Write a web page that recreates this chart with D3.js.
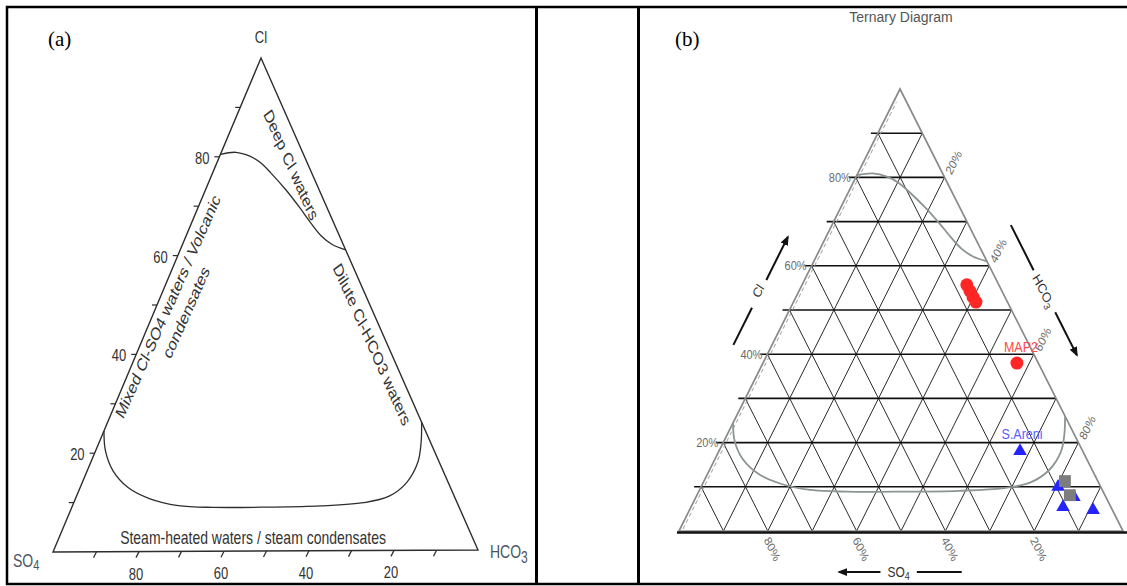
<!DOCTYPE html>
<html>
<head>
<meta charset="utf-8">
<script src="https://cdn.jsdelivr.net/npm/d3@7"></script>
<style>
body { margin: 0; background: #fff; }
svg { display: block; }
</style>
</head>
<body>
<div id="container"></div>
<script>
// boundary curves of the Cl-SO4-HCO3 diagram, as [HCO3 %, Cl %]
var upperCurve = [[0, 80.5], [3.4, 80.9], [7.1, 80.1], [10.4, 78.7], [13.7, 76.7], [19, 73.2],
    [24, 69.6], [28.1, 66.5], [31.8, 63.9], [35.3, 62.1], [39, 61]];
var lowerCurve = [[0, 24.5], [2.3, 20.5], [6.1, 16.4], [11.3, 13], [17.4, 10.75], [24.9, 9.3],
    [33.4, 8.9], [46.1, 8.9], [58.5, 9.1], [68.3, 9.7], [73.7, 11], [76.5, 13.8], [77.1, 17.9],
    [75.9, 21.9], [74, 26]];
var gridSteps = [10, 20, 30, 40, 50, 60, 70, 80, 90];
var labelSteps = [20, 40, 60, 80];

// samples on panel (b), as [HCO3 %, Cl %]
var redCluster = [[37.1, 55.7], [38.5, 54.3], [39.9, 52.9], [41.1, 51.8]];
var map2 = [[57.2, 38]];
var blueTriangles = [[85.1, 7.7], [67.8, 18.1], [80.4, 10], [83.8, 5.4], [90.9, 4.75]];
var graySquares = [[81.3, 11.3], [84, 8.1]];

var svg = d3.select('#container')
    .append('svg')
    .attr('width', 1127)
    .attr('height', 586)
    .style('font-family', '"Liberation Sans", Arial, sans-serif');

svg.append('defs').append('marker')
    .attr('id', 'head')
    .attr('viewBox', '0 -5 10 10')
    .attr('refX', 8).attr('refY', 0)
    .attr('markerUnits', 'userSpaceOnUse')
    .attr('markerWidth', 10).attr('markerHeight', 10)
    .attr('orient', 'auto')
    .append('path')
    .attr('d', 'M0,-4L10,0L0,4Z')
    .style('fill', '#111');

// barycentric projection built from linear scales: (hco3, cl) -> [x, y]
function ternary(A, L, R) {
    var s = d3.scaleLinear().domain([0, 100]);
    var hx = s.copy().range([L[0], R[0]]), hy = s.copy().range([L[1], R[1]]);
    var cx = s.copy().range([0, A[0] - L[0]]), cy = s.copy().range([0, A[1] - L[1]]);
    return function(h, c) {
        return [hx(h) + cx(c), hy(h) + cy(c)];
    };
}

// text that is stretched vertically like the scanned figure
function stext(g, str, p, angle, k, size, fill, anchor) {
    return g.append('text')
        .attr('transform', 'translate(' + p[0] + ',' + p[1] + ') scale(1,' + k + ') rotate(' + angle + ')')
        .attr('text-anchor', anchor || 'middle')
        .attr('dy', '0.35em')
        .style('font-size', size + 'px')
        .style('fill', fill)
        .text(str);
}

function seg(g, a, b, color, w) {
    return g.append('line')
        .attr('x1', a[0]).attr('y1', a[1])
        .attr('x2', b[0]).attr('y2', b[1])
        .style('stroke', color)
        .style('stroke-width', w);
}

// frame
svg.append('rect')
    .attr('x', 7).attr('y', 7)
    .attr('width', 1130).attr('height', 577)
    .style('fill', 'none').style('stroke', '#000').style('stroke-width', 2.5);
seg(svg, [536.5, 7], [536.5, 584], '#000', 3);
seg(svg, [638.5, 7], [638.5, 584], '#000', 3);

// ---------------- panel (a) ----------------
var pa = ternary([261, 58], [53, 552], [478, 550]);
var ka = 1.3;
var ga = svg.append('g');
var inkA = '#2e2e2e';

ga.append('text')
    .attr('x', 48).attr('y', 46)
    .style('font-family', '"Liberation Serif", "Times New Roman", serif')
    .style('font-size', '21px')
    .text('(a)');

ga.append('path')
    .attr('d', 'M' + pa(0, 100) + 'L' + pa(0, 0) + 'L' + pa(100, 0) + 'Z')
    .style('fill', 'none').style('stroke', inkA).style('stroke-width', 1.4);

gridSteps.forEach(function(c) {
    var p = pa(0, c);
    seg(ga, [p[0] - 5, p[1]], p, inkA, 1.2);
    var q = pa(c, 0);
    seg(ga, [q[0] + 1, q[1]], [q[0] - 2, q[1] + 6], inkA, 1.3);
});
labelSteps.forEach(function(c) {
    var p = pa(0, c);
    stext(ga, c, [p[0] - 10, p[1] + 1], 0, ka, 13, '#333', 'end');
    var q = pa(c, 0);
    stext(ga, 100 - c, [q[0] - 2, q[1] + 22], 0, ka, 13, '#333');
});

var lineA = d3.line()
    .x(function(d) { return pa(d[0], d[1])[0]; })
    .y(function(d) { return pa(d[0], d[1])[1]; })
    .curve(d3.curveCatmullRom);
ga.selectAll('path.curve')
    .data([upperCurve, lowerCurve])
    .enter().append('path')
    .attr('class', 'curve')
    .attr('d', lineA)
    .style('fill', 'none').style('stroke', inkA).style('stroke-width', 1.3);

var apexA = pa(0, 100);
stext(ga, 'Cl', [apexA[0], apexA[1] - 21], 0, ka, 13, '#333');
var so4A = pa(0, 0);
var t = stext(ga, 'SO', [so4A[0] - 40, so4A[1] + 9], 0, ka, 14, '#4a5560', 'start');
t.append('tspan').attr('dy', '0.15em').style('font-size', '11px').text('4');
var hcoA = pa(100, 0);
t = stext(ga, 'HCO', [hcoA[0] + 12, hcoA[1] + 2], 0, ka, 14, '#4a5560', 'start');
t.append('tspan').attr('dy', '0.3em').style('font-size', '12px').text('3');

stext(ga, 'Deep Cl waters', pa(17.7, 78.3), 60, ka, 14, '#333');
stext(ga, 'Dilute Cl-HCO3 waters', pa(54.6, 41.8), 60, ka, 14, '#333');
stext(ga, 'Mixed Cl-SO4 waters / Volcanic', pa(2.7, 49.7), -60, ka, 14, '#333');
stext(ga, 'condensates', pa(7.6, 48.5), -60, ka, 14, '#333');
stext(ga, 'Steam-heated waters / steam condensates', pa(45.7, 2.8), 0, ka, 14, '#333');

// ---------------- panel (b) ----------------
var pb = ternary([900, 89], [679, 531], [1123, 531]);
var kb = 1.15;
var gb = svg.append('g');

gb.append('text')
    .attr('x', 675).attr('y', 46)
    .style('font-family', '"Liberation Serif", "Times New Roman", serif')
    .style('font-size', '21px')
    .text('(b)');

gb.append('text')
    .attr('x', 901).attr('y', 22)
    .attr('text-anchor', 'middle')
    .style('font-size', '14px')
    .style('fill', '#555')
    .text('Ternary Diagram');

// diagonal grid
gridSteps.forEach(function(v) {
    seg(gb, pb(v, 0), pb(v, 100 - v), '#2a2a2a', 1);
    seg(gb, pb(v, 0), pb(0, v), '#2a2a2a', 1);
});
// horizontal (Cl) grid
gridSteps.forEach(function(c) {
    var a = pb(0, c);
    seg(gb, [a[0] - 7, a[1]], pb(100 - c, c), '#111', 1.6);
});

gb.append('path')
    .attr('d', 'M' + pb(0, 100) + 'L' + pb(0, 0) + 'L' + pb(100, 0) + 'Z')
    .style('fill', 'none').style('stroke', '#8a8a8a').style('stroke-width', 1.7);
var l0 = pb(0, 0), l1 = pb(0, 97);
seg(gb, [l0[0] + 4, l0[1] - 2], [l1[0] + 3, l1[1]], '#9a9a9a', 1).style('stroke-dasharray', '4,3');
seg(gb, [l0[0] - 2, l0[1] + 1.5], [1130, l0[1] + 1.5], '#111', 2.6);

var lineB = d3.line()
    .x(function(d) { return pb(d[0], d[1])[0]; })
    .y(function(d) { return pb(d[0], d[1])[1]; })
    .curve(d3.curveCatmullRom);
gb.selectAll('path.curve')
    .data([upperCurve, lowerCurve])
    .enter().append('path')
    .attr('class', 'curve')
    .attr('d', lineB)
    .style('fill', 'none').style('stroke', '#8c9494').style('stroke-width', 1.8);

// percent labels
labelSteps.forEach(function(c) {
    var p = pb(0, c);
    stext(gb, c + '%', [p[0] - 5, p[1]], 0, kb, 11, '#6b6b6b', 'end');
    var r = pb(100 - c, c);
    stext(gb, (100 - c) + '%', [r[0] + 9, r[1] - 15], -60, kb, 11, '#6b6b6b');
    var b = pb(c, 0);
    stext(gb, (100 - c) + '%', [b[0] - 1, b[1] + 7], 60, kb, 11, '#6b6b6b', 'start');
});

// axis arrows
seg(gb, pb(-8.7, 42.1), pb(-8.7, 50.5), '#111', 2);
seg(gb, pb(-8.6, 56.8), pb(-8.6, 66.5), '#111', 2).attr('marker-end', 'url(#head)');
stext(gb, 'Cl', pb(-9.2, 54.3), -60, kb, 12, '#333');

seg(gb, pb(109.5 - 69.2, 69.2), pb(109.5 - 59, 59), '#111', 2);
seg(gb, pb(109.6 - 49.5, 49.5), pb(109.6 - 39.8, 39.8), '#111', 2).attr('marker-end', 'url(#head)');
t = stext(gb, 'HCO', pb(109.4 - 54.3, 54.3), 60, kb, 12, '#333');
t.append('tspan').attr('dy', '0.3em').style('font-size', '9px').text('3');

seg(gb, pb(50, -9.3), pb(40.7, -9.3), '#111', 2).attr('marker-end', 'url(#head)');
seg(gb, pb(58.2, -9.3), pb(68.3, -9.3), '#111', 2);
t = stext(gb, 'SO', pb(54.1, -9.3), 0, kb, 12, '#333');
t.append('tspan').attr('dy', '0.3em').style('font-size', '9px').text('4');

// samples
gb.selectAll('path.tri')
    .data(blueTriangles)
    .enter().append('path')
    .attr('class', 'tri')
    .attr('transform', function(d) { return 'translate(' + pb(d[0], d[1]) + ')'; })
    .attr('d', d3.symbol(d3.symbolTriangle, 80))
    .style('fill', '#2424ff');
gb.selectAll('path.sq')
    .data(graySquares)
    .enter().append('path')
    .attr('class', 'sq')
    .attr('transform', function(d) { return 'translate(' + pb(d[0], d[1]) + ')'; })
    .attr('d', d3.symbol(d3.symbolSquare, 140))
    .style('fill', '#7d7d7d');
gb.selectAll('circle.red')
    .data(redCluster.concat(map2))
    .enter().append('circle')
    .attr('class', 'red')
    .attr('cx', function(d) { return pb(d[0], d[1])[0]; })
    .attr('cy', function(d) { return pb(d[0], d[1])[1]; })
    .attr('r', 6.5)
    .style('fill', '#ff2626');

var m = pb(map2[0][0], map2[0][1]);
stext(gb, 'MAP2', [m[0] + 4, m[1] - 16], 0, kb, 12.5, '#ff4a4a');
var s = pb(blueTriangles[1][0], blueTriangles[1][1]);
stext(gb, 'S.Areni', [s[0] + 2, s[1] - 17], 0, kb, 12.5, '#5c5cff');
</script>
</body>
</html>
